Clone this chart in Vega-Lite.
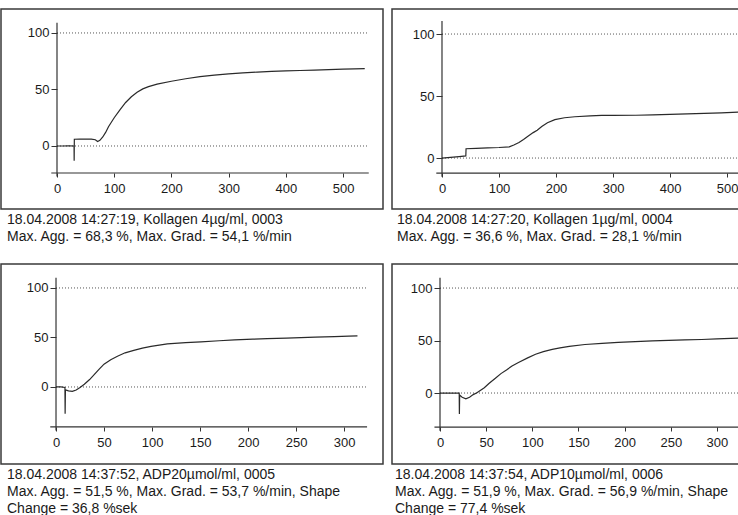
{
  "$schema": "https://vega.github.io/schema/vega-lite/v6.json",
  "background": "white",
  "padding": {"left": 0, "top": 8, "right": 0, "bottom": 0},
  "columns": 2,
  "bounds": "flush",
  "spacing": {"row": 55, "column": 9},
  "config": {
    "view": {"stroke": "#3a3a3a", "strokeWidth": 1.5},
    "axis": {"labelFont": "Liberation Sans", "labelFontSize": 13, "labelColor": "#1a1a1a", "tickColor": "#333", "domain": false, "grid": false, "title": null},
    "title": {"font": "Liberation Sans", "fontSize": 14, "fontWeight": "normal", "color": "#1a1a1a", "lineHeight": 17, "orient": "bottom", "anchor": "start", "frame": "group", "offset": 4}
  },
  "concat": [
    {
      "width": 382, "height": 200,
      "title": {"text": ["18.04.2008 14:27:19, Kollagen 4µg/ml, 0003", "Max. Agg. = 68,3 %, Max. Grad. = 54,1 %/min"], "dx": 6},
      "layer": [
        {
          "data": {"values": [{"g": 0}, {"g": 100}]},
          "mark": {"type": "rule", "strokeDash": [1, 2], "color": "#555", "strokeWidth": 1},
          "encoding": {"y": {"field": "g", "type": "quantitative"}, "x": {"datum": 0}, "x2": {"datum": 545}}
        },
        {
          "data": {"values": [{"axis": "y"}]},
          "mark": {"type": "rule", "color": "#333", "strokeWidth": 1.2},
          "encoding": {"x": {"datum": 0}, "y": {"datum": -27}, "y2": {"datum": 109}}
        },
        {
          "data": {"values": [{"axis": "x"}]},
          "mark": {"type": "rule", "color": "#333", "strokeWidth": 1.2},
          "encoding": {"y": {"datum": -23.9}, "x": {"datum": -10}, "x2": {"datum": 545}}
        },
        {
          "data": {"values": [
            {"t": 0, "v": 0}, {"t": 10, "v": 0}, {"t": 20, "v": 0.2}, {"t": 29.8, "v": 0}, {"t": 30, "v": -13}, {"t": 30.3, "v": 6},
            {"t": 40, "v": 6.2}, {"t": 50, "v": 6}, {"t": 60, "v": 6}, {"t": 67, "v": 5.5}, {"t": 71, "v": 4}, {"t": 75, "v": 5},
            {"t": 80, "v": 8}, {"t": 85, "v": 12}, {"t": 90, "v": 17}, {"t": 95, "v": 21}, {"t": 100, "v": 25}, {"t": 110, "v": 32},
            {"t": 120, "v": 38.5}, {"t": 130, "v": 43.5}, {"t": 140, "v": 47.5}, {"t": 150, "v": 50.5}, {"t": 160, "v": 52.5},
            {"t": 175, "v": 54.7}, {"t": 200, "v": 57.3}, {"t": 225, "v": 59.5}, {"t": 250, "v": 61.3},
            {"t": 275, "v": 62.7}, {"t": 300, "v": 63.8}, {"t": 325, "v": 64.7}, {"t": 350, "v": 65.4}, {"t": 375, "v": 66}, {"t": 400, "v": 66.4},
            {"t": 425, "v": 66.8}, {"t": 450, "v": 67.1}, {"t": 475, "v": 67.5}, {"t": 500, "v": 68}, {"t": 520, "v": 68.2}, {"t": 538, "v": 68.5}
          ]},
          "mark": {"type": "line", "color": "#2a2a2a", "strokeWidth": 1.2},
          "encoding": {
            "x": {"field": "t", "type": "quantitative", "scale": {"domain": [-97.9, 569.9], "nice": false, "zero": false},
                  "axis": {"values": [0, 100, 200, 300, 400, 500], "offset": -36, "tickSize": 4, "labelPadding": 5, "title": null}},
            "y": {"field": "v", "type": "quantitative", "scale": {"domain": [-55.75, 121.2], "nice": false, "zero": false},
                  "axis": {"values": [0, 50, 100], "offset": -56, "tickSize": 6, "labelPadding": 2, "title": null}}
          }
        }
      ]
    },
    {
      "width": 347, "height": 200,
      "title": {"text": ["18.04.2008 14:27:20, Kollagen 1µg/ml, 0004", "Max. Agg. = 36,6 %, Max. Grad. = 28,1 %/min"], "dx": 5},
      "layer": [
        {
          "data": {"values": [{"g": 0}, {"g": 100}]},
          "mark": {"type": "rule", "strokeDash": [1, 2], "color": "#555", "strokeWidth": 1},
          "encoding": {"y": {"field": "g", "type": "quantitative"}, "x": {"datum": 0}, "x2": {"datum": 521}}
        },
        {
          "data": {"values": [{"axis": "y"}]},
          "mark": {"type": "rule", "color": "#333", "strokeWidth": 1.2},
          "encoding": {"x": {"datum": 0}, "y": {"datum": -15}, "y2": {"datum": 110.5}}
        },
        {
          "data": {"values": [{"axis": "x"}]},
          "mark": {"type": "rule", "color": "#333", "strokeWidth": 1.2},
          "encoding": {"y": {"datum": -12.1}, "x": {"datum": -10}, "x2": {"datum": 521}}
        },
        {
          "data": {"values": [
            {"t": 0, "v": 0}, {"t": 10, "v": 0.4}, {"t": 20, "v": 0.8}, {"t": 30, "v": 1.2}, {"t": 41.8, "v": 1.7}, {"t": 42.2, "v": 7.5},
            {"t": 60, "v": 7.8}, {"t": 80, "v": 8.2}, {"t": 100, "v": 8.5}, {"t": 118, "v": 9}, {"t": 126, "v": 10.5}, {"t": 135, "v": 12.5},
            {"t": 143, "v": 15}, {"t": 152, "v": 18}, {"t": 160, "v": 20.5}, {"t": 167, "v": 22.5}, {"t": 175, "v": 25.5}, {"t": 185, "v": 28.5},
            {"t": 198, "v": 31}, {"t": 215, "v": 32.5}, {"t": 233, "v": 33.3}, {"t": 260, "v": 34}, {"t": 280, "v": 34.4}, {"t": 300, "v": 34.4},
            {"t": 340, "v": 34.5}, {"t": 370, "v": 34.8}, {"t": 400, "v": 35.2}, {"t": 430, "v": 35.6}, {"t": 460, "v": 36}, {"t": 490, "v": 36.5},
            {"t": 521, "v": 37}
          ]},
          "mark": {"type": "line", "color": "#2a2a2a", "strokeWidth": 1.2},
          "encoding": {
            "x": {"field": "t", "type": "quantitative", "scale": {"domain": [-87.7, 521], "nice": false, "zero": false},
                  "axis": {"values": [0, 100, 200, 300, 400, 500], "offset": -36, "tickSize": 4, "labelPadding": 5, "title": null}},
            "y": {"field": "v", "type": "quantitative", "scale": {"domain": [-41.1, 120.2], "nice": false, "zero": false},
                  "axis": {"values": [0, 50, 100], "offset": -50, "tickSize": 6, "labelPadding": 2, "title": null}}
          }
        }
      ]
    },
    {
      "width": 382, "height": 200,
      "title": {"text": ["18.04.2008 14:37:52, ADP20µmol/ml, 0005", "Max. Agg. = 51,5 %, Max. Grad. = 53,7 %/min, Shape", "Change = 36,8 %sek"], "dx": 6},
      "layer": [
        {
          "data": {"values": [{"g": 0}, {"g": 100}]},
          "mark": {"type": "rule", "strokeDash": [1, 2], "color": "#555", "strokeWidth": 1},
          "encoding": {"y": {"field": "g", "type": "quantitative"}, "x": {"datum": 0}, "x2": {"datum": 324}}
        },
        {
          "data": {"values": [{"axis": "y"}]},
          "mark": {"type": "rule", "color": "#333", "strokeWidth": 1.2},
          "encoding": {"x": {"datum": 0}, "y": {"datum": -44}, "y2": {"datum": 110.4}}
        },
        {
          "data": {"values": [{"axis": "x"}]},
          "mark": {"type": "rule", "color": "#333", "strokeWidth": 1.2},
          "encoding": {"y": {"datum": -40.4}, "x": {"datum": -6}, "x2": {"datum": 324}}
        },
        {
          "data": {"values": [
            {"t": 0, "v": 0}, {"t": 5, "v": 0}, {"t": 9.3, "v": -0.5}, {"t": 9.5, "v": -27}, {"t": 9.8, "v": -3}, {"t": 13, "v": -4},
            {"t": 17, "v": -4.5}, {"t": 21, "v": -3}, {"t": 25, "v": -0.5}, {"t": 29.5, "v": 2.7}, {"t": 35, "v": 7.5}, {"t": 40, "v": 12.8},
            {"t": 45, "v": 18}, {"t": 50, "v": 23}, {"t": 57, "v": 27.5}, {"t": 64, "v": 31}, {"t": 72, "v": 34.5}, {"t": 81, "v": 37},
            {"t": 90, "v": 39.3}, {"t": 99, "v": 41}, {"t": 116, "v": 43.5}, {"t": 135, "v": 44.7}, {"t": 151, "v": 45.5}, {"t": 170, "v": 46.7},
            {"t": 186, "v": 47.5}, {"t": 205, "v": 48.3}, {"t": 220, "v": 48.8}, {"t": 240, "v": 49.4}, {"t": 255, "v": 49.8}, {"t": 270, "v": 50.3},
            {"t": 290, "v": 50.8}, {"t": 305, "v": 51.3}, {"t": 314, "v": 51.6}
          ]},
          "mark": {"type": "line", "color": "#2a2a2a", "strokeWidth": 1.2},
          "encoding": {
            "x": {"field": "t", "type": "quantitative", "scale": {"domain": [-57.3, 340.6], "nice": false, "zero": false},
                  "axis": {"values": [0, 50, 100, 150, 200, 250, 300], "offset": -37, "tickSize": 4, "labelPadding": 5, "title": null}},
            "y": {"field": "v", "type": "quantitative", "scale": {"domain": [-77.8, 124.2], "nice": false, "zero": false},
                  "axis": {"values": [0, 50, 100], "offset": -55, "tickSize": 6, "labelPadding": 2, "title": null}}
          }
        }
      ]
    },
    {
      "width": 347, "height": 200,
      "title": {"text": ["18.04.2008 14:37:54, ADP10µmol/ml, 0006", "Max. Agg. = 51,9 %, Max. Grad. = 56,9 %/min, Shape", "Change = 77,4 %sek"], "dx": 3},
      "layer": [
        {
          "data": {"values": [{"g": 0}, {"g": 100}]},
          "mark": {"type": "rule", "strokeDash": [1, 2], "color": "#555", "strokeWidth": 1},
          "encoding": {"y": {"field": "g", "type": "quantitative"}, "x": {"datum": 0}, "x2": {"datum": 323.9}}
        },
        {
          "data": {"values": [{"axis": "y"}]},
          "mark": {"type": "rule", "color": "#333", "strokeWidth": 1.2},
          "encoding": {"x": {"datum": 0}, "y": {"datum": -36}, "y2": {"datum": 109.8}}
        },
        {
          "data": {"values": [{"axis": "x"}]},
          "mark": {"type": "rule", "color": "#333", "strokeWidth": 1.2},
          "encoding": {"y": {"datum": -32.4}, "x": {"datum": -6}, "x2": {"datum": 323.9}}
        },
        {
          "data": {"values": [
            {"t": 0, "v": 0}, {"t": 10, "v": 0}, {"t": 20.8, "v": 0}, {"t": 21, "v": -20}, {"t": 21.3, "v": -2}, {"t": 24, "v": -4},
            {"t": 28, "v": -5.5}, {"t": 32, "v": -4}, {"t": 36, "v": -1.5}, {"t": 40, "v": 0.3}, {"t": 48, "v": 5}, {"t": 53, "v": 9},
            {"t": 60, "v": 14}, {"t": 66, "v": 18.5}, {"t": 72, "v": 22}, {"t": 78, "v": 25.8}, {"t": 85, "v": 29}, {"t": 95, "v": 33.5},
            {"t": 103.5, "v": 37}, {"t": 112, "v": 39.5}, {"t": 121.6, "v": 41.5}, {"t": 130, "v": 43}, {"t": 140, "v": 44.5}, {"t": 157, "v": 46.2},
            {"t": 175.5, "v": 47.3}, {"t": 193, "v": 48.2}, {"t": 211.5, "v": 48.9}, {"t": 230, "v": 49.6}, {"t": 247.5, "v": 50.2}, {"t": 265, "v": 50.6},
            {"t": 283.5, "v": 51}, {"t": 300, "v": 51.5}, {"t": 323, "v": 52.3}
          ]},
          "mark": {"type": "line", "color": "#2a2a2a", "strokeWidth": 1.2},
          "encoding": {
            "x": {"field": "t", "type": "quantitative", "scale": {"domain": [-52, 323.9], "nice": false, "zero": false},
                  "axis": {"values": [0, 50, 100, 150, 200, 250, 300], "offset": -37, "tickSize": 4, "labelPadding": 5, "title": null}},
            "y": {"field": "v", "type": "quantitative", "scale": {"domain": [-67.6, 122.9], "nice": false, "zero": false},
                  "axis": {"values": [0, 50, 100], "offset": -48, "tickSize": 6, "labelPadding": 2, "title": null}}
          }
        }
      ]
    }
  ]
}
